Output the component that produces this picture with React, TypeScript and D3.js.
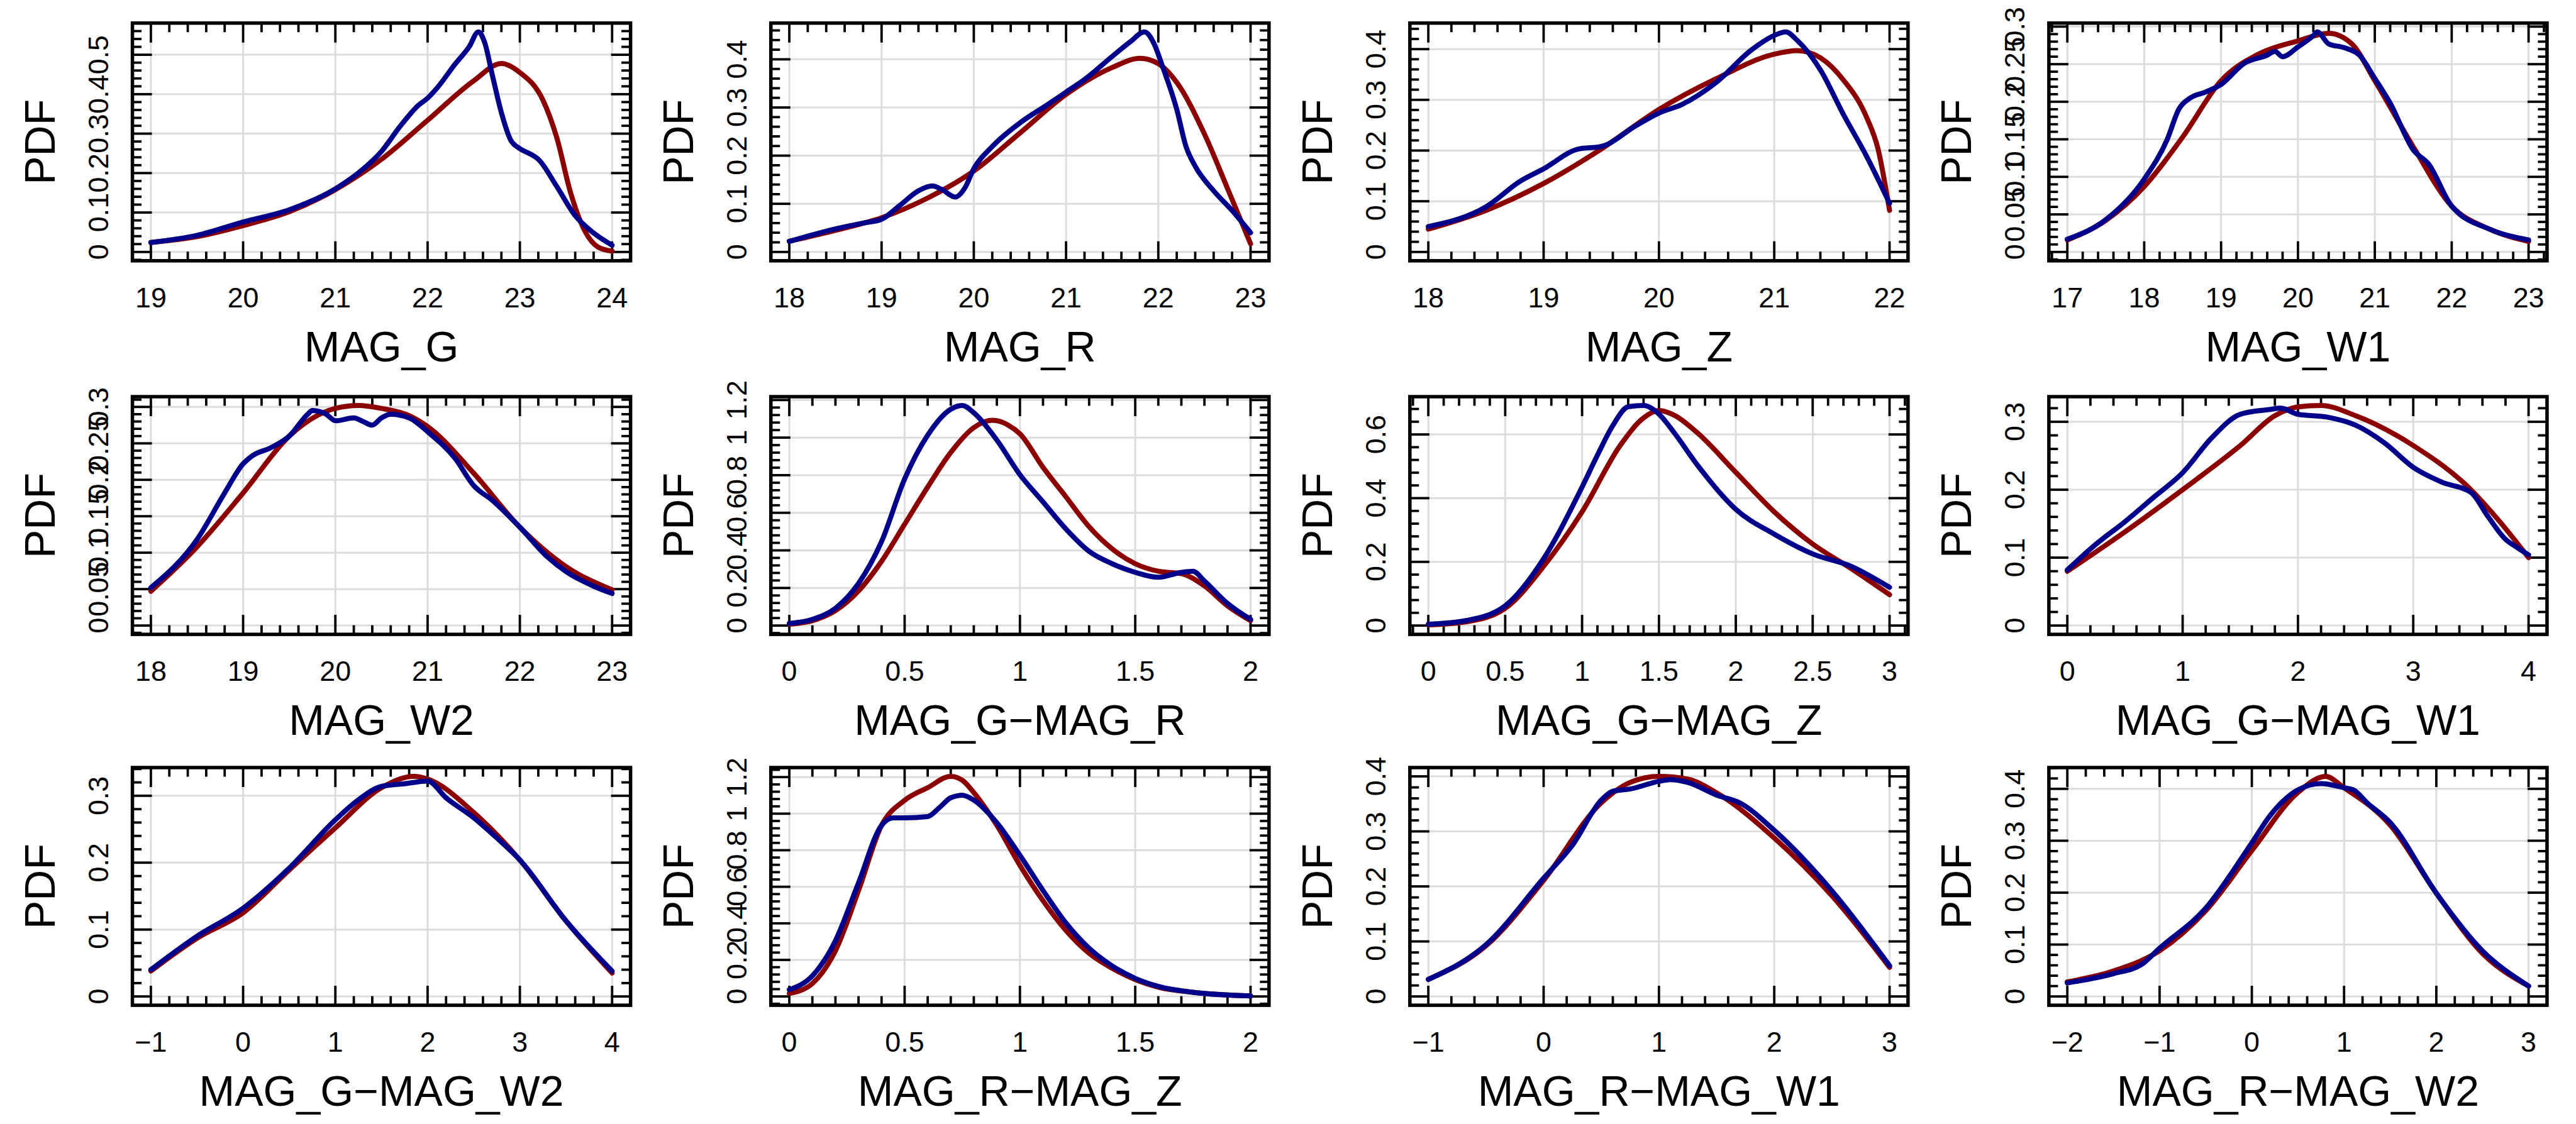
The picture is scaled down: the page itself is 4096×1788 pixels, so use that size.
import React from 'react';
import * as d3 from 'd3';

const W = 4096;
const H = 1788;
const S = 0.896;

const titles = ['MAG_G', 'MAG_R', 'MAG_Z', 'MAG_W1', 'MAG_W2', 'MAG_G\u2212MAG_R', 'MAG_G\u2212MAG_Z', 'MAG_G\u2212MAG_W1', 'MAG_G\u2212MAG_W2', 'MAG_R\u2212MAG_Z', 'MAG_R\u2212MAG_W1', 'MAG_R\u2212MAG_W2'];
const xRanges = [[19, 24], [18, 23], [18, 22], [17, 23], [18, 23], [0, 2], [0, 3], [0, 4], [-1, 4], [0, 2], [-1, 3], [-2, 3]];
const xSteps = [1, 1, 1, 1, 1, 0.5, 0.5, 1, 1, 0.5, 1, 1];
const ySteps = [0.1, 0.1, 0.1, 0.05, 0.05, 0.2, 0.2, 0.1, 0.1, 0.2, 0.1, 0.1];

const redG = [[19, 0.024], [19.5, 0.039], [20, 0.067], [20.5, 0.102], [21, 0.158], [21.5, 0.235], [22, 0.334], [22.5, 0.434], [22.8, 0.478], [23, 0.455], [23.25, 0.385], [23.4, 0.29], [23.55, 0.15], [23.7, 0.055], [23.85, 0.012], [24, 0.002]];
const blueG = [[19, 0.024], [19.5, 0.042], [20, 0.076], [20.5, 0.107], [21, 0.16], [21.3, 0.21], [21.5, 0.255], [21.7, 0.318], [21.9, 0.372], [22, 0.39], [22.1, 0.415], [22.3, 0.477], [22.45, 0.52], [22.55, 0.558], [22.62, 0.53], [22.7, 0.45], [22.8, 0.353], [22.9, 0.284], [23, 0.262], [23.1, 0.25], [23.2, 0.235], [23.4, 0.166], [23.6, 0.092], [23.8, 0.048], [24, 0.017]];

const redR = [[18, 0.022], [18.5, 0.045], [19, 0.071], [19.5, 0.112], [20, 0.168], [20.5, 0.247], [21, 0.327], [21.5, 0.383], [21.8, 0.402], [22, 0.391], [22.2, 0.352], [22.5, 0.245], [22.75, 0.132], [23, 0.017]];
const blueR = [[18, 0.022], [18.5, 0.048], [18.8, 0.06], [19, 0.068], [19.2, 0.097], [19.4, 0.127], [19.55, 0.137], [19.65, 0.13], [19.8, 0.114], [19.9, 0.132], [20, 0.173], [20.2, 0.219], [20.5, 0.268], [20.8, 0.306], [21, 0.332], [21.2, 0.358], [21.5, 0.406], [21.7, 0.437], [21.85, 0.457], [21.95, 0.434], [22.05, 0.383], [22.2, 0.296], [22.3, 0.219], [22.4, 0.178], [22.6, 0.127], [22.8, 0.086], [23, 0.04]];

const redZ = [[18, 0.045], [18.5, 0.082], [19, 0.135], [19.5, 0.203], [20, 0.281], [20.5, 0.342], [21, 0.39], [21.2, 0.397], [21.4, 0.383], [21.6, 0.339], [21.8, 0.266], [21.9, 0.203], [22, 0.082]];
const blueZ = [[18, 0.05], [18.5, 0.089], [18.8, 0.14], [19, 0.164], [19.3, 0.203], [19.5, 0.208], [19.8, 0.249], [20, 0.274], [20.2, 0.291], [20.5, 0.335], [20.8, 0.398], [21, 0.427], [21.1, 0.434], [21.2, 0.417], [21.4, 0.359], [21.6, 0.271], [21.8, 0.189], [22, 0.096]];

const redW1 = [[17, 0.016], [17.5, 0.042], [18, 0.087], [18.5, 0.153], [19, 0.228], [19.5, 0.264], [20, 0.281], [20.4, 0.291], [20.7, 0.277], [21, 0.228], [21.5, 0.14], [22, 0.061], [22.5, 0.03], [23, 0.014]];
const blueW1 = [[17, 0.017], [17.5, 0.043], [18, 0.097], [18.3, 0.15], [18.45, 0.19], [18.6, 0.205], [18.8, 0.213], [19, 0.223], [19.3, 0.251], [19.6, 0.262], [19.7, 0.267], [19.8, 0.26], [20, 0.273], [20.2, 0.288], [20.25, 0.293], [20.4, 0.277], [20.6, 0.272], [20.8, 0.262], [21, 0.231], [21.2, 0.198], [21.5, 0.136], [21.7, 0.117], [22, 0.061], [22.5, 0.03], [23, 0.016]];

const redW2 = [[18, 0.047], [18.5, 0.108], [19, 0.182], [19.5, 0.26], [19.8, 0.288], [20, 0.298], [20.25, 0.302], [20.5, 0.298], [20.8, 0.288], [21, 0.273], [21.5, 0.209], [22, 0.135], [22.5, 0.081], [23, 0.049]];
const blueW2 = [[18, 0.052], [18.5, 0.118], [18.8, 0.182], [19, 0.222], [19.1, 0.233], [19.3, 0.244], [19.5, 0.26], [19.7, 0.29], [19.75, 0.295], [19.9, 0.29], [20, 0.281], [20.2, 0.285], [20.3, 0.28], [20.4, 0.275], [20.5, 0.285], [20.6, 0.29], [20.8, 0.285], [21, 0.266], [21.3, 0.229], [21.5, 0.192], [21.7, 0.172], [22, 0.135], [22.3, 0.094], [22.5, 0.074], [22.8, 0.054], [23, 0.044]];

const redGR = [[0, 0.007], [0.1, 0.026], [0.2, 0.079], [0.3, 0.184], [0.4, 0.342], [0.5, 0.539], [0.6, 0.737], [0.7, 0.921], [0.8, 1.053], [0.88, 1.092], [0.95, 1.066], [1.0, 1.02], [1.1, 0.842], [1.2, 0.684], [1.3, 0.526], [1.4, 0.408], [1.5, 0.329], [1.6, 0.289], [1.7, 0.276], [1.8, 0.211], [1.9, 0.105], [2.0, 0.026]];
const blueGR = [[0, 0.011], [0.1, 0.033], [0.2, 0.092], [0.3, 0.224], [0.4, 0.447], [0.5, 0.78], [0.6, 1.013], [0.7, 1.151], [0.75, 1.171], [0.8, 1.132], [0.9, 0.987], [1.0, 0.803], [1.1, 0.658], [1.2, 0.513], [1.3, 0.395], [1.4, 0.329], [1.5, 0.283], [1.6, 0.257], [1.7, 0.283], [1.75, 0.289], [1.8, 0.237], [1.9, 0.118], [2.0, 0.033]];

const redGZ = [[0, 0.002], [0.25, 0.012], [0.5, 0.054], [0.75, 0.186], [1.0, 0.357], [1.25, 0.567], [1.4, 0.652], [1.5, 0.675], [1.6, 0.66], [1.75, 0.605], [2.0, 0.481], [2.25, 0.357], [2.5, 0.256], [2.75, 0.179], [3.0, 0.097]];
const blueGZ = [[0, 0.004], [0.25, 0.016], [0.5, 0.062], [0.75, 0.21], [1.0, 0.435], [1.1, 0.535], [1.2, 0.628], [1.3, 0.687], [1.4, 0.691], [1.5, 0.664], [1.6, 0.605], [1.75, 0.504], [2.0, 0.365], [2.25, 0.287], [2.5, 0.225], [2.75, 0.186], [3.0, 0.12]];

const redGW1 = [[0, 0.08], [0.5, 0.138], [1.0, 0.2], [1.5, 0.265], [1.8, 0.309], [2.0, 0.322], [2.2, 0.324], [2.5, 0.309], [3.0, 0.265], [3.5, 0.2], [3.75, 0.153], [4.0, 0.1]];
const blueGW1 = [[0, 0.082], [0.25, 0.12], [0.5, 0.153], [0.75, 0.189], [1.0, 0.225], [1.25, 0.276], [1.5, 0.311], [1.75, 0.318], [1.85, 0.32], [2.0, 0.311], [2.25, 0.307], [2.5, 0.295], [2.75, 0.269], [3.0, 0.233], [3.25, 0.211], [3.5, 0.196], [3.65, 0.16], [3.8, 0.127], [3.9, 0.115], [4.0, 0.104]];

const redGW2 = [[-1, 0.038], [-0.5, 0.087], [0, 0.125], [0.5, 0.189], [1.0, 0.252], [1.5, 0.312], [1.85, 0.329], [2.0, 0.325], [2.5, 0.275], [3.0, 0.204], [3.5, 0.113], [4.0, 0.035]];
const blueGW2 = [[-1, 0.04], [-0.5, 0.09], [0, 0.132], [0.5, 0.192], [1.0, 0.264], [1.25, 0.294], [1.5, 0.314], [1.75, 0.318], [2.0, 0.322], [2.2, 0.297], [2.5, 0.267], [2.75, 0.237], [3.0, 0.204], [3.5, 0.113], [4.0, 0.038]];

const redRZ = [[0, 0.016], [0.1, 0.071], [0.2, 0.25], [0.3, 0.579], [0.4, 0.936], [0.5, 1.073], [0.6, 1.142], [0.7, 1.204], [0.75, 1.183], [0.8, 1.115], [0.9, 0.936], [1.0, 0.717], [1.1, 0.524], [1.2, 0.36], [1.3, 0.236], [1.4, 0.154], [1.5, 0.092], [1.6, 0.051], [1.75, 0.023], [2.0, 0.003]];
const blueRZ = [[0, 0.037], [0.1, 0.113], [0.2, 0.305], [0.3, 0.621], [0.4, 0.936], [0.45, 0.977], [0.5, 0.977], [0.6, 0.984], [0.65, 1.032], [0.7, 1.087], [0.75, 1.101], [0.8, 1.074], [0.9, 0.95], [1.0, 0.772], [1.1, 0.58], [1.2, 0.401], [1.3, 0.264], [1.4, 0.167], [1.5, 0.099], [1.6, 0.055], [1.75, 0.023], [2.0, 0.003]];

const redRW1 = [[-1, 0.031], [-0.5, 0.092], [0, 0.211], [0.5, 0.352], [0.75, 0.389], [1.0, 0.4], [1.25, 0.395], [1.5, 0.37], [2.0, 0.288], [2.5, 0.183], [3.0, 0.053]];
const blueRW1 = [[-1, 0.031], [-0.5, 0.094], [0, 0.215], [0.25, 0.275], [0.5, 0.357], [0.6, 0.373], [0.75, 0.377], [1.0, 0.391], [1.1, 0.394], [1.25, 0.389], [1.5, 0.366], [1.7, 0.352], [2.0, 0.302], [2.5, 0.192], [3.0, 0.056]];

const redRW2 = [[-2, 0.028], [-1.5, 0.049], [-1.0, 0.088], [-0.5, 0.165], [0, 0.281], [0.5, 0.393], [0.8, 0.424], [1.0, 0.402], [1.5, 0.33], [2.0, 0.199], [2.5, 0.083], [3.0, 0.02]];
const blueRW2 = [[-2, 0.026], [-1.5, 0.044], [-1.2, 0.061], [-1.0, 0.093], [-0.5, 0.17], [0, 0.296], [0.2, 0.349], [0.5, 0.398], [0.75, 0.41], [1.0, 0.402], [1.1, 0.398], [1.25, 0.373], [1.5, 0.335], [2.0, 0.199], [2.5, 0.088], [3.0, 0.02]];

const redSeries = [redG, redR, redZ, redW1, redW2, redGR, redGZ, redGW1, redGW2, redRZ, redRW1, redRW2];
const blueSeries = [blueG, blueR, blueZ, blueW1, blueW2, blueGR, blueGZ, blueGW1, blueGW2, blueRZ, blueRW1, blueRW2];

const RED = '#8b0000';
const BLUE = '#00008b';
const FONT = '"Liberation Sans", Arial, Helvetica, sans-serif';

const colLeft = [235, 1368, 2502, 3636].map((v) => v * S);
const rowTop = [36.7, 631, 1221];
const FW = 884 * S;
const FH = 422 * S;

const fmt = (v: number) => {
  const r = Math.round(v * 10000) / 10000;
  return d3.format('~g')(r);
};

function stepTicks(lo: number, hi: number, step: number) {
  const out: number[] = [];
  const start = Math.ceil(lo / step - 1e-9);
  const end = Math.floor(hi / step + 1e-9);
  for (let k = start; k <= end; k++) out.push(Math.round(k * step * 1e6) / 1e6);
  return out;
}

function Panel({ i }: { i: number }) {
  const left = colLeft[i % 4];
  const top = rowTop[Math.floor(i / 4)];
  const [x0, x1] = xRanges[i];
  const xpad = (x1 - x0) * 0.04;
  const red = redSeries[i];
  const blue = blueSeries[i];
  const ymax = d3.max([...red, ...blue], (d) => d[1]) as number;
  const ypad = ymax * 0.04;
  const x = d3.scaleLinear().domain([x0 - xpad, x1 + xpad]).range([left, left + FW]);
  const y = d3.scaleLinear().domain([-ypad, ymax + ypad]).range([top + FH, top]);
  const xs = xSteps[i];
  const ys = ySteps[i];
  const xMajor = stepTicks(x0 - xpad, x1 + xpad, xs);
  const yMajor = stepTicks(-ypad, ymax + ypad, ys);
  const isMajor = (v: number, st: number) => Math.abs(v / st - Math.round(v / st)) < 1e-6;
  const xMinor = stepTicks(x0 - xpad, x1 + xpad, xs / 5).filter((v) => !isMajor(v, xs));
  const yMinor = stepTicks(-ypad, ymax + ypad, ys / 5).filter((v) => !isMajor(v, ys));
  const line = d3
    .line<number[]>()
    .x((d) => x(d[0]))
    .y((d) => y(d[1]))
    .curve(d3.curveMonotoneX);
  const bottom = top + FH;
  const right = left + FW;
  const majL = 31;
  const minL = 14.5;
  const tickW = 3.8;
  const gridC = '#dcdcdc';
  const gridW = 3;
  return (
    <g>
      {xMajor.map((v) => (
        <line key={'gx' + v} x1={x(v)} x2={x(v)} y1={top} y2={bottom} stroke={gridC} strokeWidth={gridW} />
      ))}
      {yMajor.map((v) => (
        <line key={'gy' + v} x1={left} x2={right} y1={y(v)} y2={y(v)} stroke={gridC} strokeWidth={gridW} />
      ))}
      {xMajor.map((v) => (
        <g key={'tx' + v}>
          <line x1={x(v)} x2={x(v)} y1={bottom} y2={bottom - majL} stroke="#000" strokeWidth={tickW} />
          <line x1={x(v)} x2={x(v)} y1={top} y2={top + majL} stroke="#000" strokeWidth={tickW} />
        </g>
      ))}
      {xMinor.map((v) => (
        <g key={'mx' + v}>
          <line x1={x(v)} x2={x(v)} y1={bottom} y2={bottom - minL} stroke="#000" strokeWidth={tickW} />
          <line x1={x(v)} x2={x(v)} y1={top} y2={top + minL} stroke="#000" strokeWidth={tickW} />
        </g>
      ))}
      {yMajor.map((v) => (
        <g key={'ty' + v}>
          <line x1={left} x2={left + majL} y1={y(v)} y2={y(v)} stroke="#000" strokeWidth={tickW} />
          <line x1={right} x2={right - majL} y1={y(v)} y2={y(v)} stroke="#000" strokeWidth={tickW} />
        </g>
      ))}
      {yMinor.map((v) => (
        <g key={'my' + v}>
          <line x1={left} x2={left + minL} y1={y(v)} y2={y(v)} stroke="#000" strokeWidth={tickW} />
          <line x1={right} x2={right - minL} y1={y(v)} y2={y(v)} stroke="#000" strokeWidth={tickW} />
        </g>
      ))}
      <path d={line(red) || ''} fill="none" stroke={RED} strokeWidth={8} strokeLinejoin="round" strokeLinecap="round" />
      <path d={line(blue) || ''} fill="none" stroke={BLUE} strokeWidth={8} strokeLinejoin="round" strokeLinecap="round" />
      <rect x={left} y={top} width={FW} height={FH} fill="none" stroke="#000" strokeWidth={5.5} />
      {xMajor.map((v) => (
        <text key={'lx' + v} x={x(v)} y={bottom + 74} textAnchor="middle" fontSize={44.8} fontFamily={FONT} fill="#000">
          {fmt(v)}
        </text>
      ))}
      {yMajor.map((v) => (
        <text
          key={'ly' + v}
          transform={`translate(${left - 38.5},${y(v)}) rotate(-90)`}
          textAnchor="middle"
          fontSize={44.8}
          fontFamily={FONT}
          fill="#000"
        >
          {fmt(v)}
        </text>
      ))}
      <text x={(left + right) / 2} y={bottom + 160} textAnchor="middle" fontSize={68} fontFamily={FONT} fill="#000">
        {titles[i]}
      </text>
      <text
        transform={`translate(${left - 123.6},${(top + bottom) / 2}) rotate(-90)`}
        textAnchor="middle"
        fontSize={68}
        fontFamily={FONT}
        fill="#000"
      >
        PDF
      </text>
    </g>
  );
}

export default function App() {
  return (
    <svg
      width={W}
      height={H}
      viewBox={`0 0 ${W} ${H}`}
      style={{ position: 'absolute', left: 0, top: 0, background: '#fff' }}
    >
      <rect x={0} y={0} width={W} height={H} fill="#fff" />
      {titles.map((_, i) => (
        <Panel key={i} i={i} />
      ))}
    </svg>
  );
}
